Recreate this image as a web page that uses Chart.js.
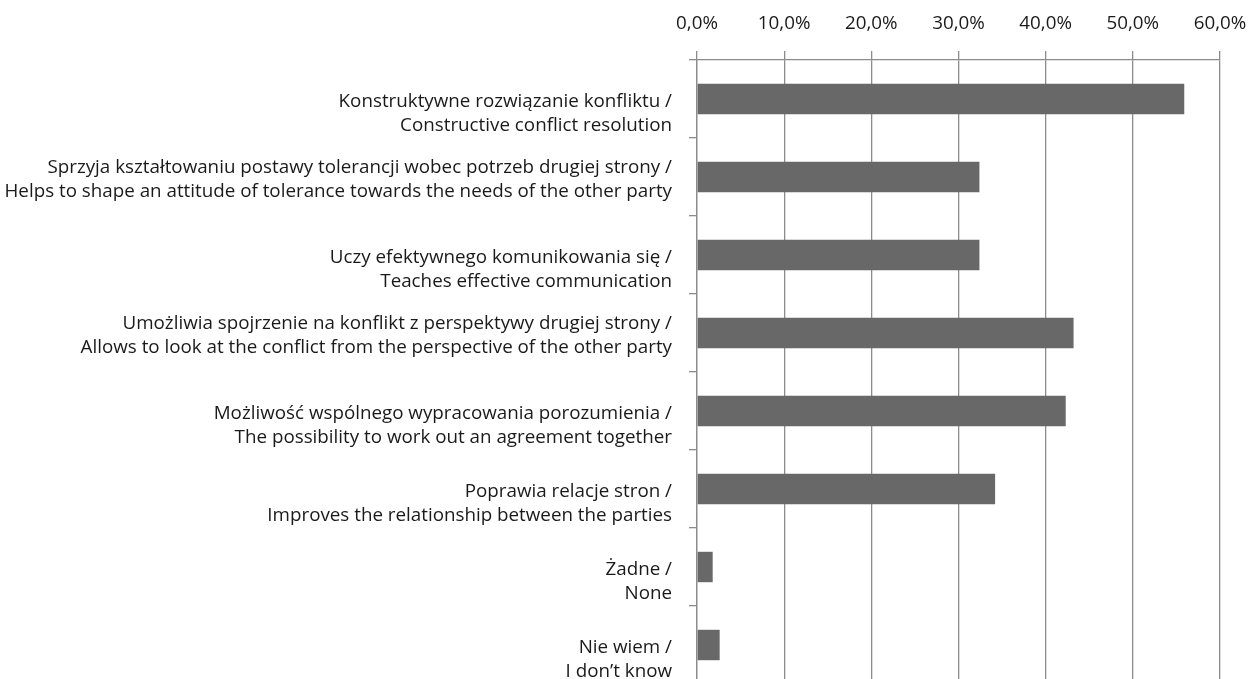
<!DOCTYPE html>
<html>
<head>
<meta charset="utf-8">
<script src="https://cdn.jsdelivr.net/npm/chart.js@4"></script>
<style>
  html, body { margin: 0; padding: 0; background: #fff; overflow: hidden; }
  #wrap { position: relative; width: 1253px; height: 690px; }
</style>
</head>
<body>
<div id="wrap"><canvas id="chart"></canvas></div>
<script>
// kategorie (PL / EN)
const labelsPl = [
  'Konstruktywne rozwiązanie konfliktu /',
  'Sprzyja kształtowaniu postawy tolerancji wobec potrzeb drugiej strony /',
  'Uczy efektywnego komunikowania się /',
  'Umożliwia spojrzenie na konflikt z perspektywy drugiej strony /',
  'Możliwość wspólnego wypracowania porozumienia /',
  'Poprawia relacje stron /',
  'Żadne /',
  'Nie wiem /'
];
const labelsEn = [
  'Constructive conflict resolution',
  'Helps to shape an attitude of tolerance towards the needs of the other party',
  'Teaches effective communication',
  'Allows to look at the conflict from the perspective of the other party',
  'The possibility to work out an agreement together',
  'Improves the relationship between the parties',
  'None',
  'I don\u2019t know'
];
// wartości w %
const values = [55.9, 32.4, 32.4, 43.2, 42.3, 34.2, 1.8, 2.6];
const xTicks = [0, 10, 20, 30, 40, 50, 60];

const FONT = '"Open Sans", Lato, sans-serif';

// krótkie etykiety w Excelu lądują o pół linii niżej
const categoryLabels = labelsPl.map((pl, i) => {
  const en = labelsEn[i];
  return Math.max(pl.length, en.length) < 60 ? ['', pl, en] : [pl, en];
});

new Chart(document.getElementById('chart'), {
  type: 'bar',
  data: {
    labels: categoryLabels,
    datasets: [{
      data: values,
      backgroundColor: '#686868',
      borderWidth: 0,
      categoryPercentage: 1,
      barPercentage: 0.39
    }]
  },
  options: {
    indexAxis: 'y',
    responsive: true,
    maintainAspectRatio: false,
    animation: false,
    layout: { padding: { left: 0, right: 33, top: 0, bottom: 6 } },
    plugins: {
      legend: { display: false },
      tooltip: { enabled: false }
    },
    scales: {
      x: {
        position: 'top',
        min: 0,
        max: 60,
        afterBuildTicks: (scale) => { scale.ticks = xTicks.map(v => ({ value: v })); },
        afterFit: (scale) => {
          scale.height = 60;
          scale.paddingLeft = 0;
          scale.paddingRight = 0;
        },
        grid: { color: '#8c8c8c', lineWidth: 1.3, tickLength: 9, drawTicks: true },
        border: { color: '#8c8c8c', width: 1.3 },
        ticks: {
          color: '#1a1a1a',
          padding: 16,
          font: { family: FONT, size: 18.8 },
          callback: (v) => Number(v).toFixed(1).replace('.', ',') + '%'
        }
      },
      y: {
        afterFit: (scale) => {
          scale.width = 697;
          scale.paddingTop = 0;
          scale.paddingBottom = 0;
        },
        grid: { offset: true, drawOnChartArea: false, color: '#8c8c8c', lineWidth: 1.3, tickLength: 8 },
        border: { color: '#8c8c8c', width: 1.3 },
        ticks: {
          color: '#1a1a1a',
          padding: 17,
          labelOffset: 3,
          autoSkip: false,
          font: { family: FONT, size: 18.8, lineHeight: '24px' }
        }
      }
    }
  }
});
</script>
</body>
</html>
